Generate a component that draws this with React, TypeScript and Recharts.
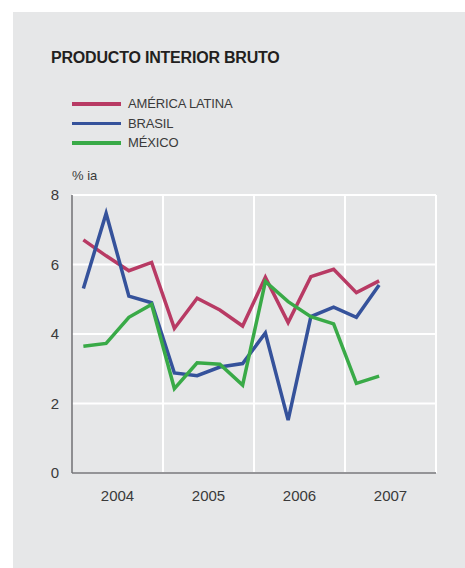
import { LineChart, Line, XAxis, YAxis, CartesianGrid, ReferenceLine } from "recharts";

const years = ["2004", "2005", "2006", "2007"];
const yTicks = [0, 2, 4, 6, 8];

// crecimiento interanual trimestral, 2004T1 - 2007T2
const americaLatina = [6.71, 6.25, 5.82, 6.06, 4.16, 5.03, 4.69, 4.23, 5.63, 4.33, 5.65, 5.86, 5.19, 5.53];
const brasil = [5.31, 7.47, 5.09, 4.9, 2.88, 2.8, 3.05, 3.15, 4.03, 1.52, 4.5, 4.77, 4.48, 5.41];
const mexico = [3.65, 3.73, 4.48, 4.85, 2.43, 3.17, 3.13, 2.53, 5.51, 4.93, 4.5, 4.29, 2.58, 2.79];

const series = [
  { key: "al", name: "AMÉRICA LATINA", color: "#b83a64", values: americaLatina },
  { key: "br", name: "BRASIL", color: "#35529b", values: brasil },
  { key: "mx", name: "MÉXICO", color: "#39aa47", values: mexico },
];

const data = americaLatina.map((_, i) => ({
  q: i + 0.5,
  al: americaLatina[i],
  br: brasil[i],
  mx: mexico[i],
}));

const font = "'Liberation Sans', Arial, sans-serif";
const textColor = "#3a3a3a";
const axisColor = "#707174";

export default function App() {
  return (
    <div
      style={{
        position: "absolute",
        left: 0,
        top: 0,
        width: 465,
        height: 568,
        background: "#fff",
        fontFamily: font,
        overflow: "hidden",
      }}
    >
      <div
        style={{
          position: "absolute",
          left: 13,
          top: 12,
          width: 452,
          height: 556,
          background: "#e6e7e8",
        }}
      />
      <div
        style={{
          position: "absolute",
          left: 51,
          top: 49,
          fontSize: 16,
          fontWeight: "bold",
          color: "#231f20",
          letterSpacing: -0.2,
        }}
      >
        PRODUCTO INTERIOR BRUTO
      </div>
      {/* Leyenda */}
      <div style={{ position: "absolute", left: 72, top: 94 }}>
        {series.map((s) => (
          <div
            key={s.key}
            style={{ display: "flex", alignItems: "center", height: 19.5 }}
          >
            <span
              style={{ width: 49, height: 3.5, background: s.color, marginRight: 7 }}
            />
            <span style={{ fontSize: 13, color: textColor, letterSpacing: -0.15 }}>
              {s.name}
            </span>
          </div>
        ))}
      </div>
      <div
        style={{
          position: "absolute",
          left: 72,
          top: 168,
          fontSize: 13,
          color: textColor,
        }}
      >
        % ia
      </div>
      <div style={{ position: "absolute", left: 0, top: 0 }}>
        <LineChart
          width={465}
          height={568}
          data={data}
          margin={{ top: 195, right: 29, bottom: 0, left: 0 }}
        >
          <CartesianGrid vertical={false} stroke="#ffffff" strokeWidth={2} />
          {[4, 8, 12, 16].map((x) => (
            <ReferenceLine key={x} x={x} stroke="#ffffff" strokeWidth={2} />
          ))}
          <XAxis
            dataKey="q"
            type="number"
            domain={[0, 16]}
            ticks={[2, 6, 10, 14]}
            tickFormatter={(v: number) => years[(v - 2) / 4]}
            tickLine={false}
            tickSize={0}
            tickMargin={17}
            height={95}
            axisLine={{ stroke: axisColor, strokeWidth: 1.5 }}
            tick={{ fill: textColor, fontSize: 15, fontFamily: font }}
          />
          <YAxis
            domain={[0, 8]}
            ticks={yTicks}
            width={72}
            tickLine={false}
            tickSize={0}
            tickMargin={13}
            axisLine={{ stroke: axisColor, strokeWidth: 1.5 }}
            tick={{ fill: textColor, fontSize: 15, fontFamily: font }}
          />
          {series.map((s) => (
            <Line
              key={s.key}
              dataKey={s.key}
              name={s.name}
              stroke={s.color}
              strokeWidth={3.5}
              dot={false}
              activeDot={false}
              strokeLinejoin="miter"
              isAnimationActive={false}
            />
          ))}
        </LineChart>
      </div>
    </div>
  );
}
